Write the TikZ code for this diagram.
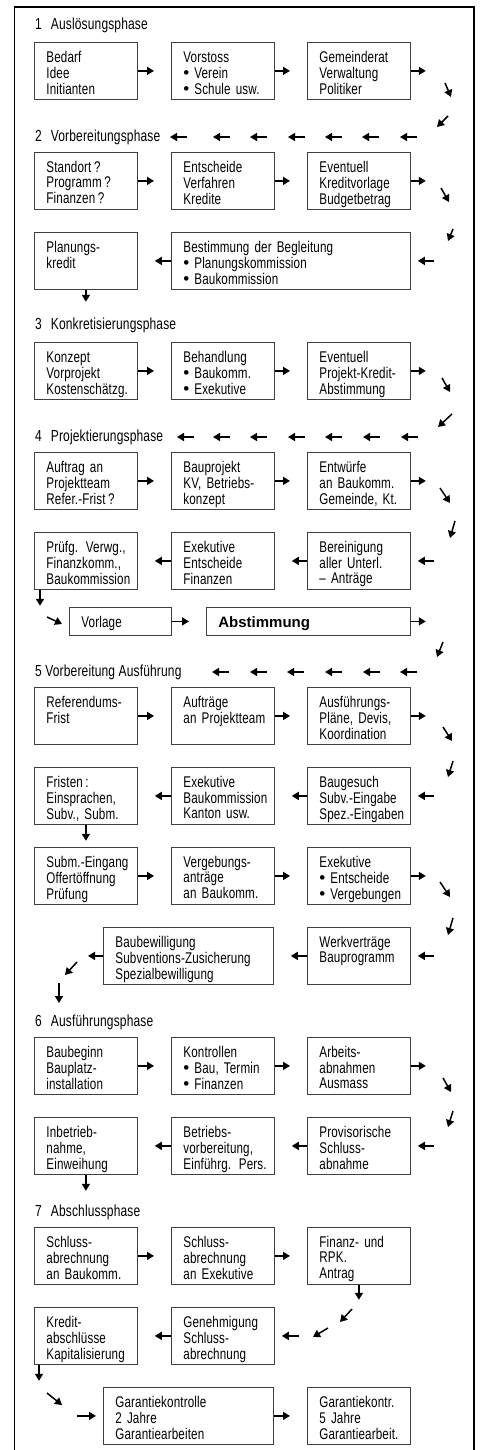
\documentclass[tikz,border=0pt]{standalone}
\usepackage{fontspec}
\setmainfont[FakeStretch=0.75,LetterSpace=1]{Liberation Sans}
\newfontfamily\votefont{Liberation Sans}
\usetikzlibrary{arrows.meta}

\newcommand{\bul}{{\votefont\fontsize{17}{15}\selectfont\textbullet}\hspace{5pt}}
\newcommand{\stagetext}[2][57pt]{\parbox[c][#1][t]{\linewidth}{\begin{tabular}[t]{@{}l@{}}\rule{0pt}{20pt}#2\end{tabular}}}

\begin{document}
\begin{tikzpicture}[x=1pt,y=-1pt]
    % Define style for boxes, titles and arrows
    \tikzstyle{stage} = [draw=black!75, line width=0.8pt, rectangle, anchor=north west, inner xsep=12pt, inner ysep=0pt, text width=79pt, font=\fontsize{15.5}{15.3}\selectfont]
    \tikzstyle{phase} = [anchor=west, inner sep=0pt, font=\fontsize{16}{18}\selectfont]
    \tikzstyle{flow} = [-{Triangle[length=7pt,width=8pt]}, line width=1.5pt]
    \tikzstyle{link} = [flow, shorten >=17pt]
    \tikzstyle{into} = [flow, shorten >=7pt]

    \useasboundingbox (0,0) rectangle (484,1450);
    % Frame, open at the bottom
    \draw[line width=1.2pt] (14.5,1450) -- (14.5,7) -- (474,7) -- (474,1450);

    % 1 Ausloesungsphase
    \node(t1)[phase] at (35,25) {1\hspace{9pt}Auslösungsphase};
    \node(b1a)[stage] at (34,42) {\stagetext{Bedarf\\Idee\\Initianten}};
    \node(b1b)[stage] at (171,42) {\stagetext{Vorstoss\\\bul Verein\\\bul Schule usw.}};
    \node(b1c)[stage] at (307,42) {\stagetext{Gemeinderat\\Verwaltung\\Politiker}};
    \draw[link] (b1a.east) -- (b1b.west);
    \draw[link] (b1b.east) -- (b1c.west);
    \draw[flow] (b1c.east) -- ++(15,0);
    \draw[flow] (445,83) -- (451,97);
    \draw[flow] (448,116) -- (437,127);

    % 2 Vorbereitungsphase
    \node(t2)[phase] at (35,137) {2\hspace{9pt}Vorbereitungsphase};
    \foreach \x in {170,213,250,288,325,362,400}
        \draw[flow] (\x+17,137) -- (\x,137);
    \node(b2a)[stage] at (34,152) {\stagetext{Standort\,?\\Programm\,?\\Finanzen\,?}};
    \node(b2b)[stage] at (171,152) {\stagetext{Entscheide\\Verfahren\\Kredite}};
    \node(b2c)[stage] at (307,152) {\stagetext{Eventuell\\Kreditvorlage\\Budgetbetrag}};
    \draw[link] (b2a.east) -- (b2b.west);
    \draw[link] (b2b.east) -- (b2c.west);
    \draw[flow] (b2c.east) -- ++(15,0);
    \draw[flow] (441,188) -- (449,202);
    \draw[flow] (453,229) -- (448,241);
    \node(b2d)[stage] at (34,232) {\stagetext{Planungs-\\kredit}};
    \node(b2e)[stage, text width=215pt] at (171,232) {\stagetext{Bestimmung der Begleitung\\\bul Planungskommission\\\bul Baukommission}};
    \draw[into] ([xshift=23pt]b2e.east) -- (b2e.east);
    \draw[link] (b2e.west) -- (b2d.east);
    \draw[flow] (b2d.south) -- ++(0,12);

    % 3 Konkretisierungsphase
    \node(t3)[phase] at (35,325) {3\hspace{9pt}Konkretisierungsphase};
    \node(b3a)[stage] at (34,342) {\stagetext{Konzept\\Vorprojekt\\Kostenschätzg.}};
    \node(b3b)[stage] at (171,342) {\stagetext{Behandlung\\\bul Baukomm.\\\bul Exekutive}};
    \node(b3c)[stage] at (307,342) {\stagetext{Eventuell\\Projekt-Kredit-\\Abstimmung}};
    \draw[link] (b3a.east) -- (b3b.west);
    \draw[link] (b3b.east) -- (b3c.west);
    \draw[flow] (b3c.east) -- ++(15,0);
    \draw[flow] (442,378) -- (450,392);
    \draw[flow] (452,414) -- (438,427);

    % 4 Projektierungsphase
    \node(t4)[phase] at (35,437) {4\hspace{9pt}Projektierungsphase};
    \foreach \x in {177,213,250,288,325,363,401}
        \draw[flow] (\x+17,437) -- (\x,437);
    \node(b4a)[stage] at (34,452) {\stagetext{Auftrag an\\Projektteam\\Refer.-Frist\,?}};
    \node(b4b)[stage] at (171,452) {\stagetext{Bauprojekt\\KV, Betriebs-\\konzept}};
    \node(b4c)[stage] at (307,452) {\stagetext{Entwürfe\\an Baukomm.\\Gemeinde, Kt.}};
    \draw[link] (b4a.east) -- (b4b.west);
    \draw[link] (b4b.east) -- (b4c.west);
    \draw[flow] (b4c.east) -- ++(15,0);
    \draw[flow] (440,488) -- (450,503);
    \draw[flow] (455,521) -- (450,538);
    \node(b4d)[stage] at (307,532) {\stagetext{Bereinigung\\aller Unterl.\\– Anträge}};
    \node(b4e)[stage] at (171,532) {\stagetext{Exekutive\\Entscheide\\Finanzen}};
    \node(b4f)[stage] at (34,532) {\stagetext{Prüfg. Verwg.,\\Finanzkomm.,\\Baukommission}};
    \draw[into] ([xshift=23pt]b4d.east) -- (b4d.east);
    \draw[link] (b4d.west) -- (b4e.east);
    \draw[link] (b4e.west) -- (b4f.east);
    \draw[flow] ([xshift=6pt]b4f.south west) -- ++(0,16);
    \draw[flow] (47,617) -- (62,624);
    \node(b4g)[stage, text width=78pt] at (69,607) {\stagetext[28pt]{Vorlage}};
    \node(b4h)[stage, text width=180pt] at (206,607) {\stagetext[28pt]{\votefont\bfseries\fontsize{15}{15}\selectfont Abstimmung}};
    \draw[link] (b4g.east) -- (b4h.west);
    \draw[flow] (b4h.east) -- ++(15,0);
    \draw[flow] (443,642) -- (437,657);

    % 5 Vorbereitung Ausfuehrung
    \node(t5)[phase] at (35,672) {5 Vorbereitung Ausführung};
    \foreach \x in {212,250,287,325,363,400}
        \draw[flow] (\x+17,672) -- (\x,672);
    \node(b5a)[stage] at (34,687) {\stagetext{Referendums-\\Frist}};
    \node(b5b)[stage] at (171,687) {\stagetext{Aufträge\\an Projektteam}};
    \node(b5c)[stage] at (307,687) {\stagetext{Ausführungs-\\Pläne, Devis,\\Koordination}};
    \draw[link] (b5a.east) -- (b5b.west);
    \draw[link] (b5b.east) -- (b5c.west);
    \draw[flow] (b5c.east) -- ++(15,0);
    \draw[flow] (443,727) -- (452,741);
    \draw[flow] (453,761) -- (448,777);
    \node(b5d)[stage] at (307,767) {\stagetext{Baugesuch\\Subv.-Eingabe\\Spez.-Eingaben}};
    \node(b5e)[stage] at (171,767) {\stagetext{Exekutive\\Baukommission\\Kanton usw.}};
    \node(b5f)[stage] at (34,767) {\stagetext{Fristen\,:\\Einsprachen,\\Subv., Subm.}};
    \draw[into] ([xshift=23pt]b5d.east) -- (b5d.east);
    \draw[link] (b5d.west) -- (b5e.east);
    \draw[link] (b5e.west) -- (b5f.east);
    \draw[flow] (b5f.south) -- ++(0,16);
    \node(b5g)[stage] at (34,847) {\stagetext{Subm.-Eingang\\Offertöffnung\\Prüfung}};
    \node(b5h)[stage] at (171,847) {\stagetext{Vergebungs-\\anträge\\an Baukomm.}};
    \node(b5i)[stage] at (307,847) {\stagetext{Exekutive\\\bul Entscheide\\\bul Vergebungen}};
    \draw[link] (b5g.east) -- (b5h.west);
    \draw[link] (b5h.east) -- (b5i.west);
    \draw[flow] (b5i.east) -- ++(15,0);
    \draw[flow] (440,882) -- (450,897);
    \draw[flow] (453,918) -- (448,935);
    \node(b5j)[stage] at (307,927) {\stagetext{Werkverträge\\Bauprogramm}};
    \node(b5k)[stage, text width=146pt] at (103,927) {\stagetext{Baubewilligung\\Subventions-Zusicherung\\Spezialbewilligung}};
    \draw[into] ([xshift=23pt]b5j.east) -- (b5j.east);
    \draw[link] (b5j.west) -- (b5k.east);
    \draw[flow] (b5k.west) -- ++(-15,0);
    \draw[flow] (77,962) -- (65,975);
    \draw[flow] (59,983) -- (59,1003);

    % 6 Ausfuehrungsphase
    \node(t6)[phase] at (35,1022) {6\hspace{9pt}Ausführungsphase};
    \node(b6a)[stage] at (34,1037) {\stagetext{Baubeginn\\Bauplatz-\\installation}};
    \node(b6b)[stage] at (171,1037) {\stagetext{Kontrollen\\\bul Bau, Termin\\\bul Finanzen}};
    \node(b6c)[stage] at (307,1037) {\stagetext{Arbeits-\\abnahmen\\Ausmass}};
    \draw[link] (b6a.east) -- (b6b.west);
    \draw[link] (b6b.east) -- (b6c.west);
    \draw[flow] (b6c.east) -- ++(15,0);
    \draw[flow] (443,1078) -- (451,1092);
    \draw[flow] (453,1111) -- (448,1127);
    \node(b6d)[stage] at (307,1117) {\stagetext{Provisorische\\Schluss-\\abnahme}};
    \node(b6e)[stage] at (171,1117) {\stagetext{Betriebs-\\vorbereitung,\\Einführg. Pers.}};
    \node(b6f)[stage] at (34,1117) {\stagetext{Inbetrieb-\\nahme,\\Einweihung}};
    \draw[into] ([xshift=23pt]b6d.east) -- (b6d.east);
    \draw[link] (b6d.west) -- (b6e.east);
    \draw[link] (b6e.west) -- (b6f.east);
    \draw[flow] (b6f.south) -- ++(0,16);

    % 7 Abschlussphase
    \node(t7)[phase] at (35,1212) {7\hspace{9pt}Abschlussphase};
    \node(b7a)[stage] at (34,1227) {\stagetext{Schluss-\\abrechnung\\an Baukomm.}};
    \node(b7b)[stage] at (171,1227) {\stagetext{Schluss-\\abrechnung\\an Exekutive}};
    \node(b7c)[stage] at (307,1227) {\stagetext{Finanz- und\\RPK.\\Antrag}};
    \draw[link] (b7a.east) -- (b7b.west);
    \draw[link] (b7b.east) -- (b7c.west);
    \draw[flow] (b7c.south) -- ++(0,15);
    \draw[flow] (352,1309) -- (340,1322);
    \draw[flow] (328,1328) -- (313,1337);
    \node(b7d)[stage] at (171,1307) {\stagetext{Genehmigung\\Schluss-\\abrechnung}};
    \node(b7e)[stage] at (34,1307) {\stagetext{Kredit-\\abschlüsse\\Kapitalisierung}};
    \draw[into] ([xshift=24pt]b7d.east) -- (b7d.east);
    \draw[link] (b7d.west) -- (b7e.east);
    \draw[flow] ([xshift=5pt]b7e.south west) -- ++(0,16);
    \draw[flow] (47,1393) -- (62,1405);
    \node(b7f)[stage, text width=146pt] at (103,1387) {\stagetext{Garantiekontrolle\\2 Jahre\\Garantiearbeiten}};
    \node(b7g)[stage] at (307,1387) {\stagetext{Garantiekontr.\\5 Jahre\\Garantiearbeit.}};
    \draw[into] ([xshift=-26pt]b7f.west) -- (b7f.west);
    \draw[link] (b7f.east) -- (b7g.west);
\end{tikzpicture}
\end{document}
